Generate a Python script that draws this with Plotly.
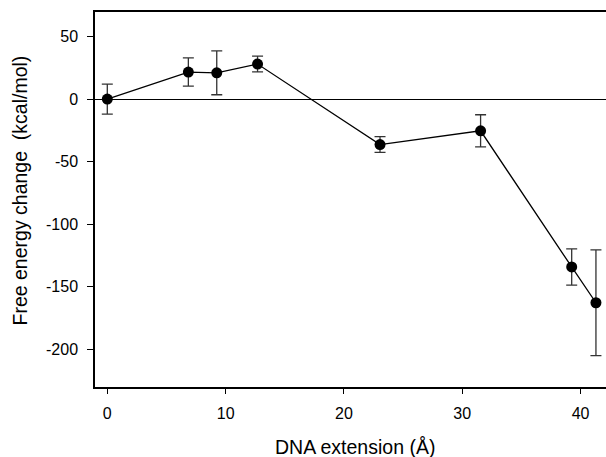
import plotly.graph_objects as go

# Data
extension = [0.0, 6.85, 9.25, 12.7, 23.05, 31.55, 39.25, 41.3]
free_energy = [0.0, 21.6, 21.0, 28.0, -36.3, -25.3, -134.1, -162.7]
error = [12.0, 11.3, 17.5, 6.3, 6.3, 12.8, 14.5, 42.2]
x_ticks = [0, 10, 20, 30, 40]
y_ticks = [50, 0, -50, -100, -150, -200]
y_tick_labels = ["50", "0", "-50", "-100", "-150", "-200"]

FONT = "Liberation Sans, Arial, Helvetica, sans-serif"

fig = go.Figure()
fig.add_trace(go.Scatter(
    x=extension, y=free_energy,
    mode="lines+markers",
    line=dict(color="black", width=1.3),
    marker=dict(color="black", size=11),
    error_y=dict(type="data", array=error, visible=True,
                 color="#333333", thickness=1.3, width=5.5),
    showlegend=False,
))

fig.update_layout(
    width=606, height=457,
    margin=dict(l=95, r=0, t=12, b=70, pad=0),
    paper_bgcolor="white", plot_bgcolor="white",
    font=dict(family=FONT, size=16, color="black"),
    xaxis=dict(
        range=[-1.04, 42.15], tickvals=x_ticks,
        ticks="outside", ticklen=5, tickwidth=1, tickcolor="black",
        showline=True, linecolor="black", linewidth=1.5, mirror=True,
        showgrid=False, zeroline=False,
        ticklabelstandoff=6,
        tickfont=dict(size=16),
    ),
    yaxis=dict(
        range=[-230, 69.6], tickvals=y_ticks, ticktext=y_tick_labels,
        ticks="outside", ticklen=6, tickwidth=1, tickcolor="black",
        showline=True, linecolor="black", linewidth=1.5,
        showgrid=False,
        zeroline=True, zerolinecolor="black", zerolinewidth=1.2,
        ticklabelstandoff=6,
        tickfont=dict(size=16),
    ),
    annotations=[
        dict(text="DNA extension (Å)", xref="paper", yref="paper",
             x=0.5, y=0, xanchor="center", yanchor="middle",
             yshift=-60, xshift=4, showarrow=False,
             font=dict(size=19.5, family=FONT)),
        dict(text="Free energy change\u00a0 (kcal/mol)", xref="paper", yref="paper",
             x=0, y=0.5, xanchor="center", yanchor="middle", textangle=-90,
             xshift=-76, yshift=9, showarrow=False,
             font=dict(size=19.5, family=FONT)),
    ],
)

fig.write_html(
    "out.html",
    config={"displayModeBar": False},
    post_script="document.body.style.margin='0';document.body.style.overflow='hidden';",
)
